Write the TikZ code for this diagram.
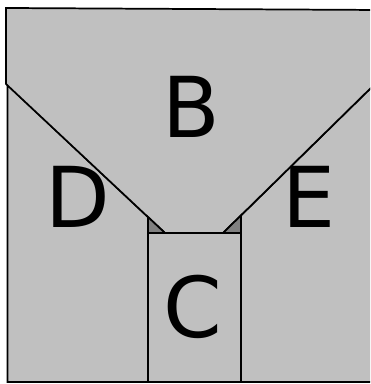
\documentclass[tikz,border=0pt]{standalone}
\usepackage{fontspec}
\setmainfont{DejaVu Sans}
\usetikzlibrary{positioning}
\definecolor{wallgray}{RGB}{192,192,192}
\definecolor{cornergray}{RGB}{128,128,128}

\begin{document}
\begin{tikzpicture}[x=0.75pt, y=-0.75pt, line width=1.3pt, line join=miter,
    part/.style={draw, fill=wallgray},
    corner/.style={draw, fill=cornergray},
    letter/.style={inner sep=0pt, font=\fontsize{63}{70}\selectfont}]
    \useasboundingbox (0,0) rectangle (370,384);
    \clip (0,0) rectangle (370,384);
    \def\cl{148} % sides of C
    \def\cr{241}
    \def\ct{233}
    \def\bot{382}
    % side parts
    \draw[part] (7.5,85) -- (\cl,217) -- (\cl,\bot) -- (7.5,\bot) -- cycle;
    \draw[part] (\cr,215.4) -- (380,79) -- (380,\bot) -- (\cr,\bot) -- cycle;
    % top part
    \draw[part] (6,8) -- (380,10) -- (380,79) -- (223,\ct) -- (165,\ct) -- (6,84) -- cycle;
    % small corners
    \draw[corner] (\cl,217) -- (\cl,\ct) -- (165,\ct) -- cycle;
    \draw[corner] (\cr,215.4) -- (\cr,\ct) -- (223,\ct) -- cycle;
    % bottom part
    \draw[part] (\cl,\ct) rectangle (\cr,\bot);
    % labels
    \node[letter] (labelB) at (191,107) {B};
    \node[letter] (labelD) at (78,197) {D};
    \node[letter] (labelE) at (309,197) {E};
    \node[letter] (labelC) at (193,307) {C};
\end{tikzpicture}
\end{document}
